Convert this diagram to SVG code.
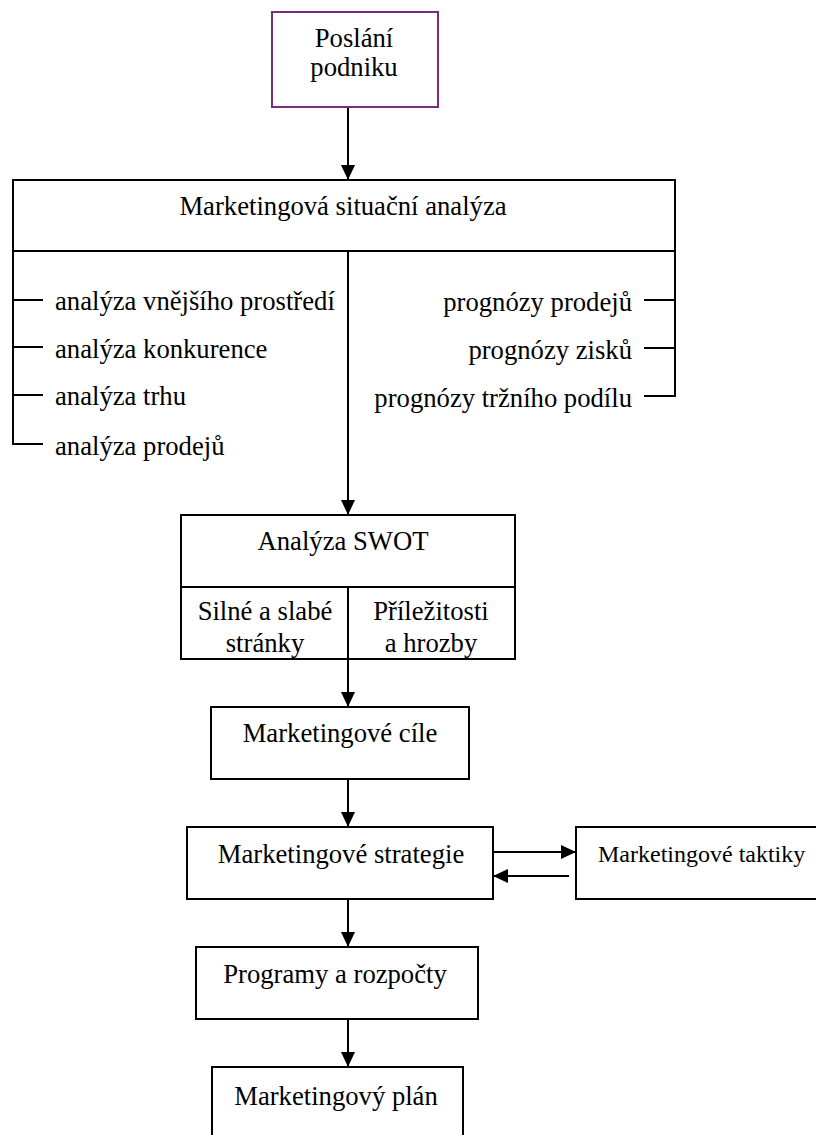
<svg xmlns="http://www.w3.org/2000/svg" width="816" height="1135" viewBox="0 0 816 1135">
<defs>
<style>
.box{fill:#fff;stroke:#000;stroke-width:2}
.ln{fill:none;stroke:#000;stroke-width:2}
.t{font-family:"Liberation Serif","Times New Roman",serif;font-size:26.67px;fill:#000}
.c{text-anchor:middle}
.e{text-anchor:end}
.s{font-size:24px}
</style>
<marker id="ah" viewBox="0 0 15 14" refX="15" refY="7" markerWidth="15" markerHeight="14" markerUnits="userSpaceOnUse" orient="auto">
<path d="M0,0 L15,7 L0,14 z" fill="#000"/>
</marker>
</defs>
<rect width="816" height="1135" fill="#fff"/>

<g id="connectors">
<line class="ln" x1="348" y1="107" x2="348" y2="180" marker-end="url(#ah)"/>
<line class="ln" x1="348" y1="251" x2="348" y2="515" marker-end="url(#ah)"/>
<line class="ln" x1="348" y1="659" x2="348" y2="707" marker-end="url(#ah)"/>
<line class="ln" x1="348" y1="779" x2="348" y2="827" marker-end="url(#ah)"/>
<line class="ln" x1="493" y1="852" x2="576" y2="852" marker-end="url(#ah)"/>
<line class="ln" x1="569" y1="876" x2="493" y2="876" marker-end="url(#ah)"/>
<line class="ln" x1="348" y1="899" x2="348" y2="947" marker-end="url(#ah)"/>
<line class="ln" x1="348" y1="1019" x2="348" y2="1067" marker-end="url(#ah)"/>
</g>

<g id="poslani">
<rect x="272" y="12" width="166" height="95" fill="#fff" stroke="#7B2A7E" stroke-width="2"/>
<text class="t c" x="354" y="47">Poslání</text>
<text class="t c" x="354" y="76">podniku</text>
</g>

<g id="situacni-analyza">
<rect class="box" x="13" y="180" width="662" height="71"/>
<text class="t c" x="343" y="215">Marketingová situační analýza</text>
<path class="ln" d="M13,251 V444 H43 M13,300 H43 M13,347 H43 M13,395 H43"/>
<text class="t" x="55" y="310">analýza vnějšího prostředí</text>
<text class="t" x="55" y="358">analýza konkurence</text>
<text class="t" x="55" y="405">analýza trhu</text>
<text class="t" x="55" y="455">analýza prodejů</text>
<path class="ln" d="M675,251 V396 H644 M675,300 H644 M675,348 H644"/>
<text class="t e" x="632" y="311">prognózy prodejů</text>
<text class="t e" x="632" y="359">prognózy zisků</text>
<text class="t e" x="632" y="407">prognózy tržního podílu</text>
</g>

<g id="swot">
<rect class="box" x="181" y="515" width="334" height="144"/>
<path class="ln" d="M181,587 H515 M348,587 V659"/>
<text class="t c" x="343" y="550">Analýza SWOT</text>
<text class="t c" x="265" y="620">Silné a slabé</text>
<text class="t c" x="265" y="652">stránky</text>
<text class="t c" x="431" y="620">Příležitosti</text>
<text class="t c" x="431" y="652">a hrozby</text>
</g>

<g id="cile">
<rect class="box" x="211" y="707" width="258" height="72"/>
<text class="t c" x="340" y="742">Marketingové cíle</text>
</g>

<g id="strategie">
<rect class="box" x="187" y="827" width="306" height="72"/>
<text class="t c" x="341" y="863">Marketingové strategie</text>
</g>

<g id="taktiky">
<rect class="box" x="576" y="827" width="250" height="72"/>
<text class="t s" x="598" y="862">Marketingové taktiky</text>
</g>

<g id="programy">
<rect class="box" x="196" y="947" width="282" height="72"/>
<text class="t c" x="335" y="983">Programy a rozpočty</text>
</g>

<g id="plan">
<rect class="box" x="212" y="1067" width="251" height="80"/>
<text class="t c" x="336" y="1105">Marketingový plán</text>
</g>
</svg>
